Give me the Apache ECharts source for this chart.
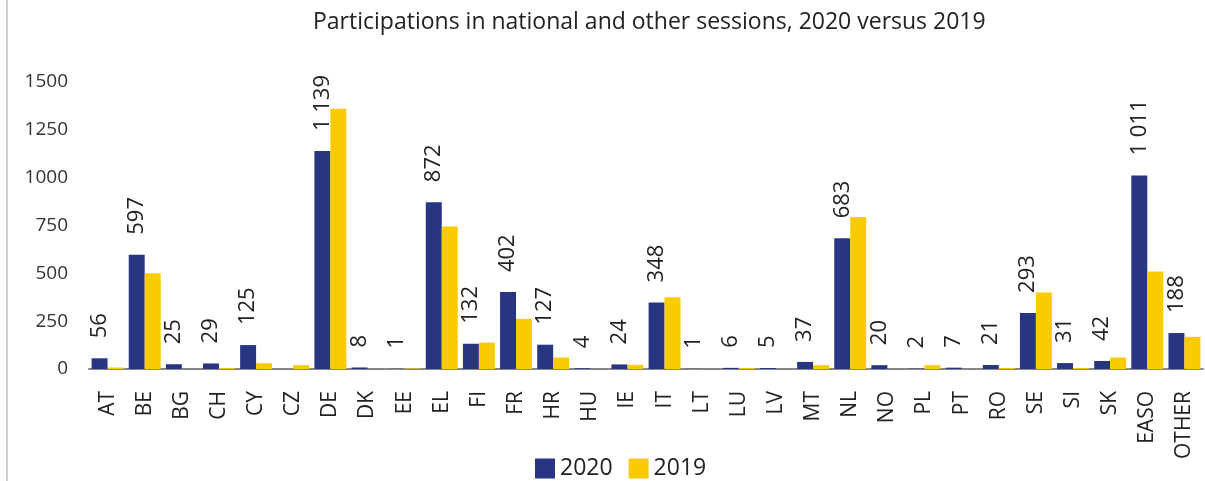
<!DOCTYPE html>
<html>
<head>
<meta charset="utf-8">
<script src="https://cdn.jsdelivr.net/npm/echarts@6/dist/echarts.min.js"></script>
<style>
html, body { margin: 0; padding: 0; background: #fff; }
#chart { width: 1205px; height: 481px; }
</style>
</head>
<body>
<div id="chart"></div>
<script>
const categories = ['AT', 'BE', 'BG', 'CH', 'CY', 'CZ', 'DE', 'DK', 'EE', 'EL', 'FI', 'FR', 'HR', 'HU', 'IE', 'IT', 'LT', 'LU', 'LV', 'MT', 'NL', 'NO', 'PL', 'PT', 'RO', 'SE', 'SI', 'SK', 'EASO', 'OTHER']
const values2020 = [56, 597, 25, 29, 125, 0, 1139, 8, 1, 872, 132, 402, 127, 4, 24, 348, 1, 6, 5, 37, 683, 20, 2, 7, 21, 293, 31, 42, 1011, 188]
const values2019 = [8, 500, 0, 5, 30, 20, 1360, 0, 3, 745, 138, 262, 60, 0, 22, 375, 0, 5, 0, 20, 795, 0, 20, 0, 5, 400, 5, 60, 510, 168]
const yTicks = [0, 250, 500, 750, 1000, 1250, 1500]

const blue = '#283583'
const yellow = '#F9CB00'
const font = '"Open Sans", "Noto Sans", sans-serif'

// thousands with a space, like "1 139"
function fmt(v) {
  return String(v).replace(/\B(?=(\d{3})+(?!\d))/g, ' ')
}

const chart = echarts.init(document.getElementById('chart'))
chart.setOption({
  animation: false,
  title: {
    text: 'Participations in national and other sessions, 2020 versus 2019',
    left: 308,
    top: 6,
    textStyle: { fontFamily: font, fontSize: 23, fontWeight: 'normal', color: '#222' }
  },
  legend: {
    bottom: -4,
    left: 530,
    itemWidth: 20,
    itemHeight: 20,
    itemGap: 16,
    icon: 'rect',
    textStyle: { fontFamily: font, fontSize: 23, color: '#222' },
    data: ['2020', '2019']
  },
  grid: { left: 89, right: 2, top: 82, bottom: 112, containLabel: false },
  graphic: [{
    type: 'line',
    shape: { x1: 7, y1: 0, x2: 7, y2: 481 },
    style: { stroke: '#d0d0d0', lineWidth: 2 }
  }],
  xAxis: {
    type: 'category',
    data: categories,
    axisLine: { lineStyle: { color: '#888', width: 2 } },
    axisTick: { show: false },
    axisLabel: {
      rotate: 90,
      interval: 0,
      margin: 22,
      fontFamily: font,
      fontSize: 21,
      color: '#222'
    }
  },
  yAxis: {
    type: 'value',
    min: yTicks[0],
    max: yTicks[yTicks.length - 1],
    interval: 250,
    splitLine: { show: false },
    axisLine: { show: false },
    axisTick: { show: false },
    axisLabel: {
      margin: 21,
      fontFamily: font,
      fontSize: 19,
      color: '#333',
      formatter: function (v) { return String(v) }
    }
  },
  series: [{
    name: '2020',
    type: 'bar',
    data: values2020,
    barGap: '0%',
    barCategoryGap: '14%',
    itemStyle: { color: blue },
    label: {
      show: true,
      position: 'top',
      rotate: 90,
      align: 'left',
      verticalAlign: 'middle',
      distance: 20,
      fontFamily: font,
      fontSize: 22,
      color: '#222',
      formatter: function (p) { return p.value ? fmt(p.value) : '' }
    }
  }, {
    name: '2019',
    type: 'bar',
    data: values2019,
    itemStyle: { color: yellow }
  }]
})
</script>
</body>
</html>
